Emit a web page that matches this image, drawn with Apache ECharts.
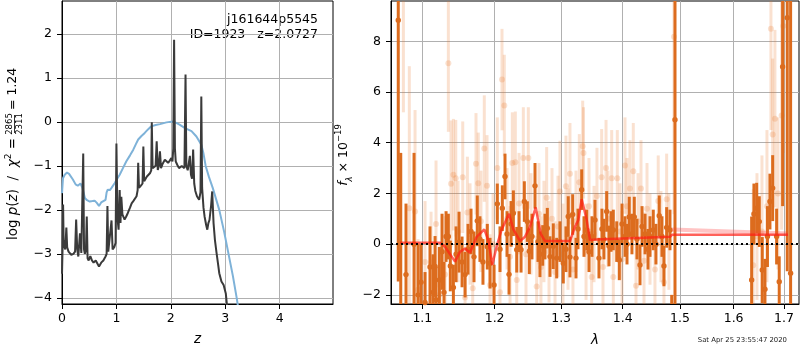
<!DOCTYPE html>
<html>
<head>
<meta charset="utf-8">
<script src="https://cdn.jsdelivr.net/npm/echarts@6/dist/echarts.min.js"></script>
<style>
html, body { margin: 0; padding: 0; background: #fff; }
#main { width: 800px; height: 350px; }
</style>
</head>
<body>
<div id="main"></div>
<script>
// ---- left panel: log p(z) ----
var zTicks = [0, 1, 2, 3, 4];
var pzTicks = [-4, -3, -2, -1, 0, 1, 2];

// smooth curve (light blue)
var priorCurve = [
    [0.0, -1.62], [0.018, -1.28], [0.05, -1.2], [0.092, -1.15], [0.13, -1.18], [0.2, -1.31],
    [0.25, -1.42], [0.29, -1.45], [0.34, -1.40], [0.375, -1.50], [0.40, -1.62], [0.42, -1.73],
    [0.46, -1.78], [0.51, -1.81], [0.56, -1.80], [0.60, -1.79], [0.64, -1.84], [0.68, -1.91],
    [0.72, -1.83], [0.75, -1.79], [0.80, -1.77], [0.82, -1.6], [0.84, -1.54], [0.88, -1.55],
    [0.91, -1.50], [0.97, -1.39], [1.02, -1.28], [1.06, -1.20], [1.12, -1.05], [1.18, -0.90],
    [1.25, -0.76], [1.31, -0.63], [1.36, -0.5], [1.40, -0.40], [1.46, -0.32], [1.52, -0.25],
    [1.58, -0.17], [1.64, -0.10], [1.72, -0.07], [1.80, -0.05], [1.92, -0.01], [2.04, 0.01],
    [2.10, -0.02], [2.16, -0.06], [2.26, -0.14], [2.38, -0.21], [2.47, -0.33], [2.56, -0.52],
    [2.60, -0.72], [2.64, -1.0], [2.70, -1.25], [2.77, -1.5], [2.83, -1.75], [2.89, -2.0],
    [2.98, -2.5], [3.06, -3.0], [3.14, -3.5], [3.21, -4.0], [3.26, -4.4]
];

// jagged curve (dark grey)
var pzCurve = [
    [0.00, -3.45], [0.01, -2.9], [0.02, -1.88], [0.03, -2.7], [0.045, -2.85], [0.06, -2.9],
    [0.08, -2.40], [0.095, -2.85], [0.12, -2.95], [0.17, -3.02], [0.21, -3.0], [0.24, -2.95],
    [0.26, -2.22], [0.28, -2.9], [0.30, -3.06], [0.33, -2.53], [0.355, -2.98], [0.375, -2.95],
    [0.39, -0.72], [0.405, -2.9], [0.42, -3.0], [0.44, -2.9], [0.455, -2.15], [0.47, -3.1],
    [0.49, -3.15], [0.52, -3.05], [0.55, -3.15], [0.58, -3.2], [0.62, -3.15], [0.65, -3.22],
    [0.68, -3.29], [0.72, -3.2], [0.76, -3.15], [0.80, -3.06], [0.82, -3.0], [0.835, -1.91],
    [0.85, -2.95], [0.88, -2.98], [0.91, -2.24], [0.93, -2.9], [0.96, -2.85], [0.985, -2.75],
    [1.0, -0.49], [1.02, -2.2], [1.04, -2.45], [1.06, -1.55], [1.075, -2.3], [1.09, -1.7],
    [1.11, -2.1], [1.15, -2.22], [1.18, -2.15], [1.21, -2.07], [1.25, -1.95], [1.28, -1.85],
    [1.31, -1.8], [1.34, -1.77], [1.37, -1.69], [1.39, -1.55], [1.40, -0.93], [1.415, -1.5],
    [1.45, -1.45], [1.48, -1.4], [1.495, -0.56], [1.51, -1.35], [1.53, -1.37], [1.56, -1.24],
    [1.59, -1.2], [1.62, -1.16], [1.64, -1.1], [1.65, -0.01], [1.665, -1.05], [1.69, -1.03],
    [1.72, -1.0], [1.74, -0.44], [1.76, -1.09], [1.78, -1.0], [1.80, -0.67], [1.82, -1.05],
    [1.85, -0.95], [1.89, -0.86], [1.92, -0.9], [1.95, -0.93], [1.98, -0.88], [2.01, -0.82],
    [2.03, -0.9], [2.045, -0.6], [2.06, 1.87], [2.075, -0.6], [2.09, -0.9], [2.12, -0.98],
    [2.15, -1.05], [2.2, -1.0], [2.25, -1.05], [2.27, 1.08], [2.285, -1.0], [2.31, -1.1],
    [2.33, -1.12], [2.35, -0.77], [2.37, -1.2], [2.39, -1.29], [2.41, -0.63], [2.43, -1.4],
    [2.45, -1.57], [2.48, -1.69], [2.52, -1.77], [2.545, -1.6], [2.56, 0.58], [2.575, -1.5],
    [2.6, -1.95], [2.62, -2.15], [2.65, -2.35], [2.67, -2.45], [2.69, -2.3], [2.71, -2.23],
    [2.74, -1.9], [2.76, -1.58], [2.785, -2.3], [2.81, -2.68], [2.84, -2.98], [2.87, -3.25],
    [2.89, -3.44], [2.93, -3.63], [2.97, -3.71], [3.01, -3.9], [3.03, -4.15], [3.05, -4.6]
];

// ---- right panel: spectrum ----
var lamTicks = [1.1, 1.2, 1.3, 1.4, 1.5, 1.6, 1.7];
var fluxTicks = [-2, 0, 2, 4, 6, 8];

// [lambda, flux, error]  (dark points)
var specBinned = [
    [1.0686, 8.83, 10.3], [1.0718, -2.6, 6.2], [1.0786, -1.2, 2.8], [1.0891, 0.0, 3.6],
    [1.0944, -2.0, 2.0], [1.0983, -1.5, 1.5], [1.1036, -2.3, 1.2], [1.1102, -0.9, 1.6],
    [1.1143, -1.9, 1.5], [1.1170, -0.88, 1.2], [1.1183, -2.2, 1.3], [1.1228, -1.41, 1.3],
    [1.1264, -0.3, 1.5], [1.1291, -1.9, 1.2], [1.1319, 0.3, 1.0], [1.1350, 0.30, 0.9],
    [1.1377, -0.86, 1.0], [1.1419, -1.71, 0.9], [1.1456, -0.4, 1.1], [1.1497, 0.08, 1.2],
    [1.1539, -0.7, 1.0], [1.1581, -1.2, 0.9], [1.1622, -0.2, 1.0], [1.1664, 0.5, 0.9],
    [1.1706, -0.5, 1.0], [1.1752, 0.92, 1.0], [1.1790, 0.2, 0.9], [1.1833, -0.7, 0.9],
    [1.1895, -0.1, 0.9], [1.1934, -0.75, 1.0], [1.1992, -1.61, 0.8], [1.2039, 1.59, 0.8],
    [1.2078, -0.2, 0.9], [1.2112, 1.42, 0.9], [1.2151, 2.67, 0.9], [1.2181, 0.4, 0.9],
    [1.2210, -1.19, 0.8], [1.2240, 0.8, 0.9], [1.2274, 1.22, 0.9], [1.2324, -0.22, 0.9],
    [1.2358, 0.5, 0.8], [1.2388, -0.22, 0.9], [1.2437, 1.68, 0.8], [1.2482, 0.89, 0.8],
    [1.2512, -0.28, 0.9], [1.2552, 0.3, 0.9], [1.2598, 2.30, 0.9], [1.2643, 0.1, 0.8],
    [1.2673, -0.4, 0.9], [1.2715, -0.05, 0.8], [1.2750, 0.3, 0.9], [1.2786, 0.63, 0.8],
    [1.2827, -0.49, 0.8], [1.2878, -0.08, 0.9], [1.2931, -0.55, 0.8], [1.2982, 0.1, 0.8],
    [1.3034, -0.75, 0.8], [1.3076, -0.2, 0.9], [1.3112, 1.09, 0.8], [1.3139, -0.51, 0.8],
    [1.3182, 1.17, 0.8], [1.3235, -0.55, 0.8], [1.3267, 0.6, 0.8], [1.3326, 2.15, 0.8],
    [1.3363, 0.3, 0.8], [1.3407, 0.56, 0.8], [1.3444, -0.3, 0.8], [1.3492, 0.3, 0.8],
    [1.3541, 0.95, 0.8], [1.3606, -0.55, 0.8], [1.3655, 0.6, 0.8], [1.3688, 0.2, 0.8],
    [1.3733, 1.29, 0.8], [1.3771, -0.07, 0.8], [1.3805, 0.5, 0.8], [1.3843, 0.56, 0.8],
    [1.3900, 0.1, 0.8], [1.3943, -0.62, 0.8], [1.3989, 0.8, 0.8], [1.4039, 0.3, 0.8],
    [1.4073, 0.0, 0.8], [1.4111, 1.07, 0.8], [1.4157, 0.4, 0.8], [1.4197, 1.07, 0.8],
    [1.4243, 0.2, 0.8], [1.4295, -0.82, 0.8], [1.4330, 0.7, 0.8], [1.4382, 0.40, 0.8],
    [1.4433, -0.2, 0.8], [1.4468, 0.3, 0.8], [1.4525, 0.56, 0.8], [1.4572, 0.0, 0.8],
    [1.4630, 1.12, 0.8], [1.4678, 0.3, 0.8], [1.4713, -0.86, 0.8], [1.4761, 0.66, 0.8],
    [1.4820, 0.56, 0.8], [1.4851, -3.2, 1.2], [1.4910, 4.91, 8.0],
    [1.6351, -1.41, 2.5], [1.6396, 1.19, 1.2], [1.6450, 1.42, 1.0], [1.6502, 0.89, 1.0],
    [1.6561, -1.02, 1.3], [1.6615, -1.78, 1.2], [1.6665, 0.3, 1.2], [1.6715, 1.68, 1.1],
    [1.6770, 2.21, 1.3], [1.6850, 0.30, 1.1], [1.6903, -1.48, 1.0], [1.6972, 7.0, 5.5],
    [1.7067, 8.93, 10.0], [1.7136, -1.15, 11.0]
];

// [lambda, flux, error]  (faint points)
var specRaw = [
    [1.0752, 11.5, 6.3], [1.0829, 1.42, 5.6], [1.0904, 1.29, 4.0], [1.0944, -1.8, 2.0],
    [1.1036, -0.7, 2.4], [1.1116, -0.72, 2.0], [1.1183, 0.8, 2.5], [1.1237, -1.98, 2.0],
    [1.1305, -1.2, 2.3], [1.1350, 7.13, 2.7], [1.1387, 2.38, 2.5], [1.1419, 2.74, 2.2],
    [1.1452, 2.6, 2.3], [1.1483, 0.5, 2.0], [1.1548, 2.64, 2.2], [1.1581, -2.1, 2.0],
    [1.1613, 1.25, 2.2], [1.1650, 0.4, 2.0], [1.1688, -1.74, 2.0], [1.1734, 3.17, 2.0],
    [1.1766, 2.4, 2.0], [1.1804, 0.9, 2.0], [1.1852, 3.77, 2.1], [1.1891, 2.3, 2.0],
    [1.1934, -1.61, 2.0], [1.1977, 0.0, 2.0], [1.2039, 3.0, 2.0], [1.2078, -1.9, 2.0],
    [1.2107, 6.49, 2.0], [1.2141, 5.47, 2.0], [1.2181, 1.0, 2.0], [1.2225, -0.5, 2.0],
    [1.2259, 3.2, 2.0], [1.2303, 3.23, 2.0], [1.2324, -1.41, 2.0], [1.2358, 1.6, 2.0],
    [1.2422, 3.40, 2.0], [1.2462, -0.4, 2.0], [1.2497, 3.4, 2.0], [1.2537, 0.8, 2.0],
    [1.2623, -1.67, 2.0], [1.2658, 1.2, 2.0], [1.2688, -0.9, 2.0], [1.2734, 0.5, 2.0],
    [1.2776, 1.83, 2.0], [1.2812, -0.3, 2.0], [1.2858, 1.0, 2.0], [1.2905, -1.1, 2.0],
    [1.2951, 0.7, 2.0], [1.2982, 2.08, 2.0], [1.3029, -0.4, 2.0], [1.3076, 2.28, 2.0],
    [1.3108, 0.2, 2.0], [1.3139, 2.78, 2.0], [1.3187, -1.0, 2.0], [1.3235, 0.9, 2.0],
    [1.3288, 2.44, 1.9], [1.3342, 3.86, 1.8], [1.3355, 3.6, 1.8], [1.3396, -0.3, 1.9],
    [1.3444, 1.5, 1.9], [1.3487, -1.3, 1.9], [1.3525, 0.4, 1.9], [1.3573, 1.9, 1.9],
    [1.3650, 2.64, 1.9], [1.3672, -0.9, 1.9], [1.3722, 3.0, 1.9], [1.3755, 1.0, 1.9],
    [1.3816, 2.6, 1.9], [1.3843, -1.3, 1.9], [1.3910, 2.6, 1.9], [1.3955, 0.5, 1.9],
    [1.3989, -0.6, 1.9], [1.4039, 3.1, 1.9], [1.4073, 1.5, 1.9], [1.4123, 2.2, 1.9],
    [1.4180, 2.88, 1.9], [1.4226, -1.64, 1.9], [1.4261, 0.9, 1.9], [1.4312, 2.2, 1.9],
    [1.4364, -0.65, 1.9], [1.4416, 1.4, 1.8], [1.4468, 0.2, 1.8], [1.4555, -1.0, 1.8],
    [1.4612, 1.7, 1.8], [1.4660, 0.3, 1.8], [1.4713, -1.5, 1.8], [1.4761, 1.77, 1.8],
    [1.4802, 0.1, 1.9], [1.4892, 8.18, 7.0],
    [1.6382, -0.83, 3.0], [1.6456, 0.3, 2.5], [1.6555, 0.5, 3.0], [1.6655, 1.5, 3.0],
    [1.6735, 8.5, 4.0], [1.6770, 4.32, 3.0], [1.6816, 4.95, 3.5], [1.6877, 2.0, 3.0],
    [1.6952, 5.07, 4.5], [1.6985, 8.6, 5.0]
];

// model (red)
var modelLine = [
    [1.0709, 0.06], [1.1237, 0.06], [1.1305, -0.1], [1.1442, -0.69], [1.1511, -0.30],
    [1.1581, -0.17], [1.1650, -0.34], [1.1744, 0.29], [1.1852, 0.58], [1.1910, 0.16],
    [1.1967, -0.82], [1.2030, -0.08], [1.2103, 0.58], [1.2210, 1.20], [1.2274, 0.58],
    [1.2373, 0.12], [1.2447, 0.29], [1.2522, 0.69], [1.2608, 1.45], [1.2684, 0.42],
    [1.2750, 0.12], [1.3139, 0.12], [1.3219, 0.69], [1.3272, 0.95], [1.3326, 1.77],
    [1.3407, 0.95], [1.3460, 0.16], [1.3567, 0.18], [1.4820, 0.29], [1.4856, 0.37],
    [1.7083, 0.37]
];
// continuum (pale red)
var contLine = [[1.4856, 0.58], [1.7083, 0.42]];

var lamMin = 1.0593, lamMax = 1.731;

function minus(v) {
    return v < 0 ? '\u2212' + Math.abs(v) : String(v);
}
function toLog(arr) {
    return arr.map(function (d) {
        var r = d.slice();
        r[0] = Math.log(d[0]);
        return r;
    });
}

function errorBars(color, lw, r) {
    return function (params, api) {
        var cs = params.coordSys;
        var x = api.value(0), y = api.value(1), e = api.value(2);
        var c = api.coord([x, y]);
        var top = api.coord([x, y + e]);
        var bot = api.coord([x, y - e]);
        var y1 = Math.max(top[1], cs.y);
        var y2 = Math.min(bot[1], cs.y + cs.height);
        var kids = [];
        if (y2 > y1) {
            kids.push({type: 'line', shape: {x1: c[0], y1: y1, x2: c[0], y2: y2},
                style: {stroke: color, lineWidth: lw}});
        }
        if (c[1] >= cs.y && c[1] <= cs.y + cs.height) {
            kids.push({type: 'circle', shape: {cx: c[0], cy: c[1], r: r}, style: {fill: color}});
        }
        return {type: 'group', children: kids};
    };
}

var FONT = 'DejaVu Sans';
var tickFont = {fontFamily: FONT, fontSize: 12.5, color: '#000'};
var gridLine = {show: true, lineStyle: {color: '#b0b0b0', width: 1}};
var axisLine = {show: true, onZero: false, lineStyle: {color: '#000', width: 1}};

var chartDom = document.getElementById('main');
var myChart = echarts.init(chartDom);
var option;

option = {
    animation: false,
    backgroundColor: '#fff',
    grid: [
        {left: 62, top: 1, width: 271, height: 303, show: true, borderColor: '#000', borderWidth: 1,
            containLabel: false, outerBoundsMode: 'none'},
        {left: 391, top: 1, width: 408, height: 303, show: true, borderColor: '#000', borderWidth: 1,
            containLabel: false, outerBoundsMode: 'none'}
    ],
    xAxis: [
        {
            gridIndex: 0, type: 'value', min: 0, max: 4.98,
            name: 'z', nameLocation: 'middle', nameGap: 28,
            nameTextStyle: {fontFamily: FONT, fontSize: 13.5, fontStyle: 'italic', color: '#000'},
            axisLine: axisLine,
            axisTick: {show: true, length: 5, lineStyle: {color: '#000'}, customValues: zTicks},
            axisLabel: Object.assign({margin: 8, customValues: zTicks, formatter: minus}, tickFont),
            splitLine: gridLine
        },
        {
            gridIndex: 1, type: 'value', min: Math.log(lamMin), max: Math.log(lamMax),
            name: 'λ', nameLocation: 'middle', nameGap: 29,
            nameTextStyle: {fontFamily: FONT, fontSize: 13.5, fontStyle: 'italic', color: '#000'},
            axisLine: axisLine,
            axisTick: {show: true, length: 5, lineStyle: {color: '#000'}, customValues: lamTicks.map(Math.log)},
            axisLabel: Object.assign({
                margin: 8, customValues: lamTicks.map(Math.log),
                formatter: function (v) { return Math.exp(v).toFixed(1); }
            }, tickFont),
            splitLine: gridLine
        }
    ],
    yAxis: [
        {
            gridIndex: 0, type: 'value', min: -4.14, max: 2.75,
            axisLine: axisLine,
            axisTick: {show: true, length: 5, lineStyle: {color: '#000'}, customValues: pzTicks},
            axisLabel: Object.assign({margin: 10, customValues: pzTicks, formatter: minus}, tickFont),
            splitLine: gridLine
        },
        {
            gridIndex: 1, type: 'value', min: -2.36, max: 9.59,
            axisLine: axisLine,
            axisTick: {show: true, length: 5, lineStyle: {color: '#000'}, customValues: fluxTicks},
            axisLabel: Object.assign({margin: 10, customValues: fluxTicks, formatter: minus}, tickFont),
            splitLine: gridLine
        }
    ],
    series: [
        {
            type: 'line', xAxisIndex: 0, yAxisIndex: 0, data: priorCurve,
            showSymbol: false, lineStyle: {color: '#7eb2d8', width: 2}
        },
        {
            type: 'line', xAxisIndex: 0, yAxisIndex: 0, data: pzCurve,
            showSymbol: false, lineStyle: {color: '#3a3a3a', width: 2}
        },
        {
            type: 'custom', xAxisIndex: 1, yAxisIndex: 1, data: toLog(specRaw),
            encode: {x: 0, y: 1},
            renderItem: errorBars('rgba(230,120,40,0.22)', 3, 3)
        },
        {
            type: 'custom', xAxisIndex: 1, yAxisIndex: 1, data: toLog(specBinned),
            encode: {x: 0, y: 1},
            renderItem: errorBars('#dc6c1e', 3, 2.7)
        },
        {
            type: 'line', xAxisIndex: 1, yAxisIndex: 1, data: toLog(contLine),
            showSymbol: false, lineStyle: {color: 'rgba(255,60,60,0.3)', width: 4}
        },
        {
            type: 'line', xAxisIndex: 1, yAxisIndex: 1, data: toLog(modelLine),
            showSymbol: false, lineStyle: {color: 'rgba(255,30,20,0.7)', width: 2.5},
            markLine: {
                silent: true, symbol: 'none', label: {show: false},
                lineStyle: {color: '#000', type: [2, 3], width: 2},
                data: [{yAxis: 0}]
            }
        }
    ],
    graphic: [
        {
            type: 'text', x: 318, y: 20,
            style: {text: 'j161644p5545', fontFamily: FONT, fontSize: 12.5, fill: '#000',
                align: 'right', verticalAlign: 'middle'}
        },
        {
            type: 'text', x: 318, y: 34.5,
            style: {text: 'ID=1923   z=2.0727', fontFamily: FONT, fontSize: 12.5, fill: '#000',
                align: 'right', verticalAlign: 'middle'}
        },
        {
            type: 'group', x: 13, y: 154, rotation: Math.PI / 2,
            children: [
                {
                    type: 'text', x: 16, y: 0,
                    style: {
                        text: '{a|log }{i|p}{a|(}{i|z}{a|)  /  }{i|χ}{s|2}{a| =}',
                        align: 'right', verticalAlign: 'middle', fill: '#000',
                        rich: {
                            a: {fontFamily: FONT, fontSize: 13.5, lineHeight: 18},
                            i: {fontFamily: FONT, fontSize: 13.5, fontStyle: 'italic', lineHeight: 18},
                            s: {fontFamily: FONT, fontSize: 9, lineHeight: 10, verticalAlign: 'top'}
                        }
                    }
                },
                {
                    type: 'text', x: 30, y: -3,
                    style: {text: '2865', fontFamily: FONT, fontSize: 8.5, fill: '#000',
                        align: 'center', verticalAlign: 'middle'}
                },
                {
                    type: 'line', shape: {x1: 21, y1: 1.5, x2: 39, y2: 1.5},
                    style: {stroke: '#000', lineWidth: 0.8}
                },
                {
                    type: 'text', x: 30, y: 6.5,
                    style: {text: '2311', fontFamily: FONT, fontSize: 8.5, fill: '#000',
                        align: 'center', verticalAlign: 'middle'}
                },
                {
                    type: 'text', x: 44, y: 0,
                    style: {text: '= 1.24', fontFamily: FONT, fontSize: 12.5, fill: '#000',
                        align: 'left', verticalAlign: 'middle'}
                }
            ]
        },
        {
            type: 'group', x: 344, y: 155, rotation: Math.PI / 2,
            children: [
                {
                    type: 'text', x: 0, y: 0,
                    style: {
                        text: '{i|f}{b|λ}{a| × 10}{s|−19}',
                        align: 'center', verticalAlign: 'middle', fill: '#000',
                        rich: {
                            a: {fontFamily: FONT, fontSize: 12.5, lineHeight: 20},
                            i: {fontFamily: FONT, fontSize: 12.5, fontStyle: 'italic', lineHeight: 20},
                            b: {fontFamily: FONT, fontSize: 8.5, fontStyle: 'italic', lineHeight: 10, verticalAlign: 'bottom'},
                            s: {fontFamily: FONT, fontSize: 8.5, lineHeight: 10, verticalAlign: 'top'}
                        }
                    }
                }
            ]
        },
        {
            type: 'text', x: 787, y: 340,
            style: {text: 'Sat Apr 25 23:55:47 2020', fontFamily: FONT, fontSize: 6.9, fill: '#222',
                align: 'right', verticalAlign: 'middle'}
        }
    ]
};

option && myChart.setOption(option);

window.addEventListener('resize', function () {
    myChart.resize();
});
</script>
</body>
</html>
